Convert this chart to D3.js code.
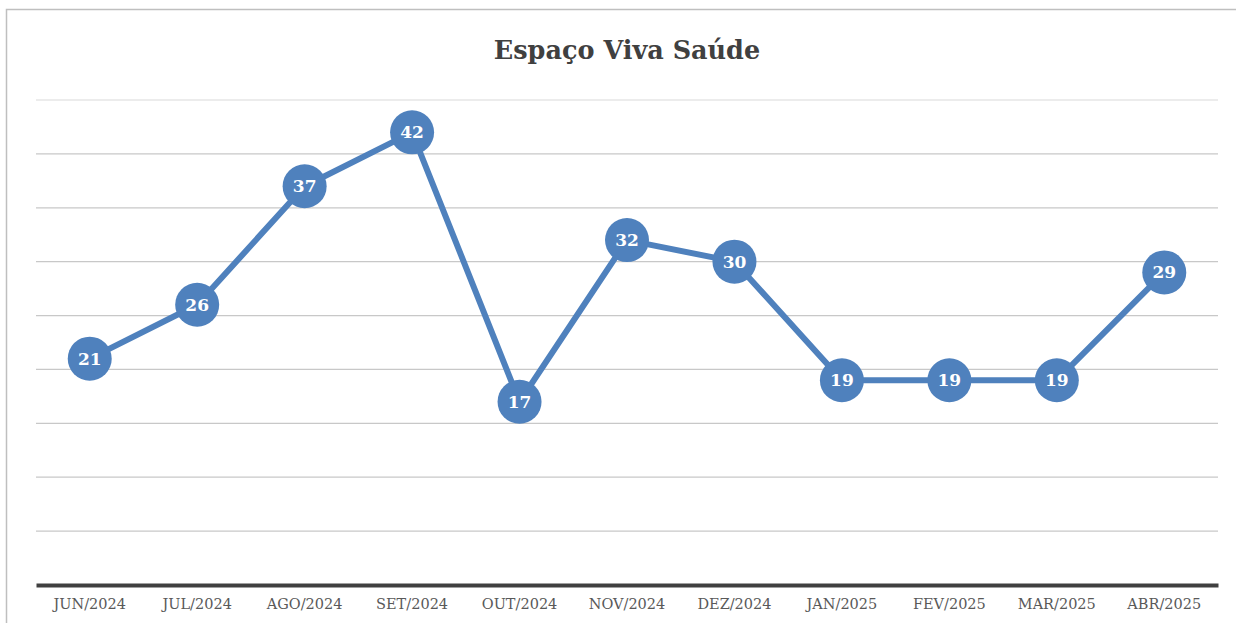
<!DOCTYPE html>
<html><head><meta charset="utf-8">
<script src="https://cdn.jsdelivr.net/npm/d3@7"></script>
<style>body{margin:0;background:#fff;}svg{display:block;}</style>
</head><body>
<svg id="c" width="1236" height="623"></svg>
<script>
const title = "Espaço Viva Saúde";
const categories = ["JUN/2024","JUL/2024","AGO/2024","SET/2024","OUT/2024","NOV/2024","DEZ/2024","JAN/2025","FEV/2025","MAR/2025","ABR/2025"];
const values = [21,26,37,42,17,32,30,19,19,19,29];
const yTicks = [0,5,10,15,20,25,30,35,40,45];

const svg = d3.select("#c");
const W = 1236, H = 623;
const m = {left:36, right:18, top:100, bottom:38};
const serif = "'DejaVu Serif', 'Liberation Serif', serif";

// outer border
svg.append("rect").attr("x",6.5).attr("y",9.5).attr("width",W+10).attr("height",H+10)
  .attr("fill","#fff").attr("stroke","#bfbfbf").attr("stroke-width",1.5);

const x = d3.scaleBand().domain(categories).range([m.left, W-m.right]);
const y = d3.scaleLinear().domain([0,45]).range([H-m.bottom, m.top]);

// gridlines
svg.append("g").selectAll("line").data(yTicks.filter(d=>d>0)).join("line")
  .attr("x1",m.left).attr("x2",W-m.right)
  .attr("y1",d=>y(d)).attr("y2",d=>y(d))
  .attr("stroke",d=>d===45?"#e6e6e6":"#c8c8c8").attr("stroke-width",1.3);

// x axis
const xAxis = svg.append("g").attr("transform",`translate(0,${y(0)})`)
  .call(d3.axisBottom(x).tickSize(0).tickPadding(14));
xAxis.select(".domain").attr("stroke","#404040").attr("stroke-width",4);
xAxis.selectAll("text").attr("font-family",serif).attr("font-size",14.5).attr("fill","#595959");

// title
svg.append("text").attr("x",627).attr("y",59).attr("text-anchor","middle")
  .attr("font-family",serif).attr("font-weight","bold").attr("font-size",25.5).attr("fill","#404040")
  .text(title);

const cx = (d,i)=>x(categories[i])+x.bandwidth()/2;
const line = d3.line().x((d,i)=>cx(d,i)).y(d=>y(d));
svg.append("path").datum(values).attr("d",line).attr("fill","none")
  .attr("stroke","#4f81bd").attr("stroke-width",6).attr("stroke-linejoin","round");

const pts = svg.append("g").selectAll("g").data(values).join("g")
  .attr("transform",(d,i)=>`translate(${cx(d,i)},${y(d)})`);
pts.append("circle").attr("r",22).attr("fill","#4f81bd");
pts.append("text").attr("text-anchor","middle").attr("dy","0.35em")
  .attr("font-family",serif).attr("font-weight","bold").attr("font-size",17).attr("fill","#fff")
  .text(d=>d);
</script>
</body></html>
